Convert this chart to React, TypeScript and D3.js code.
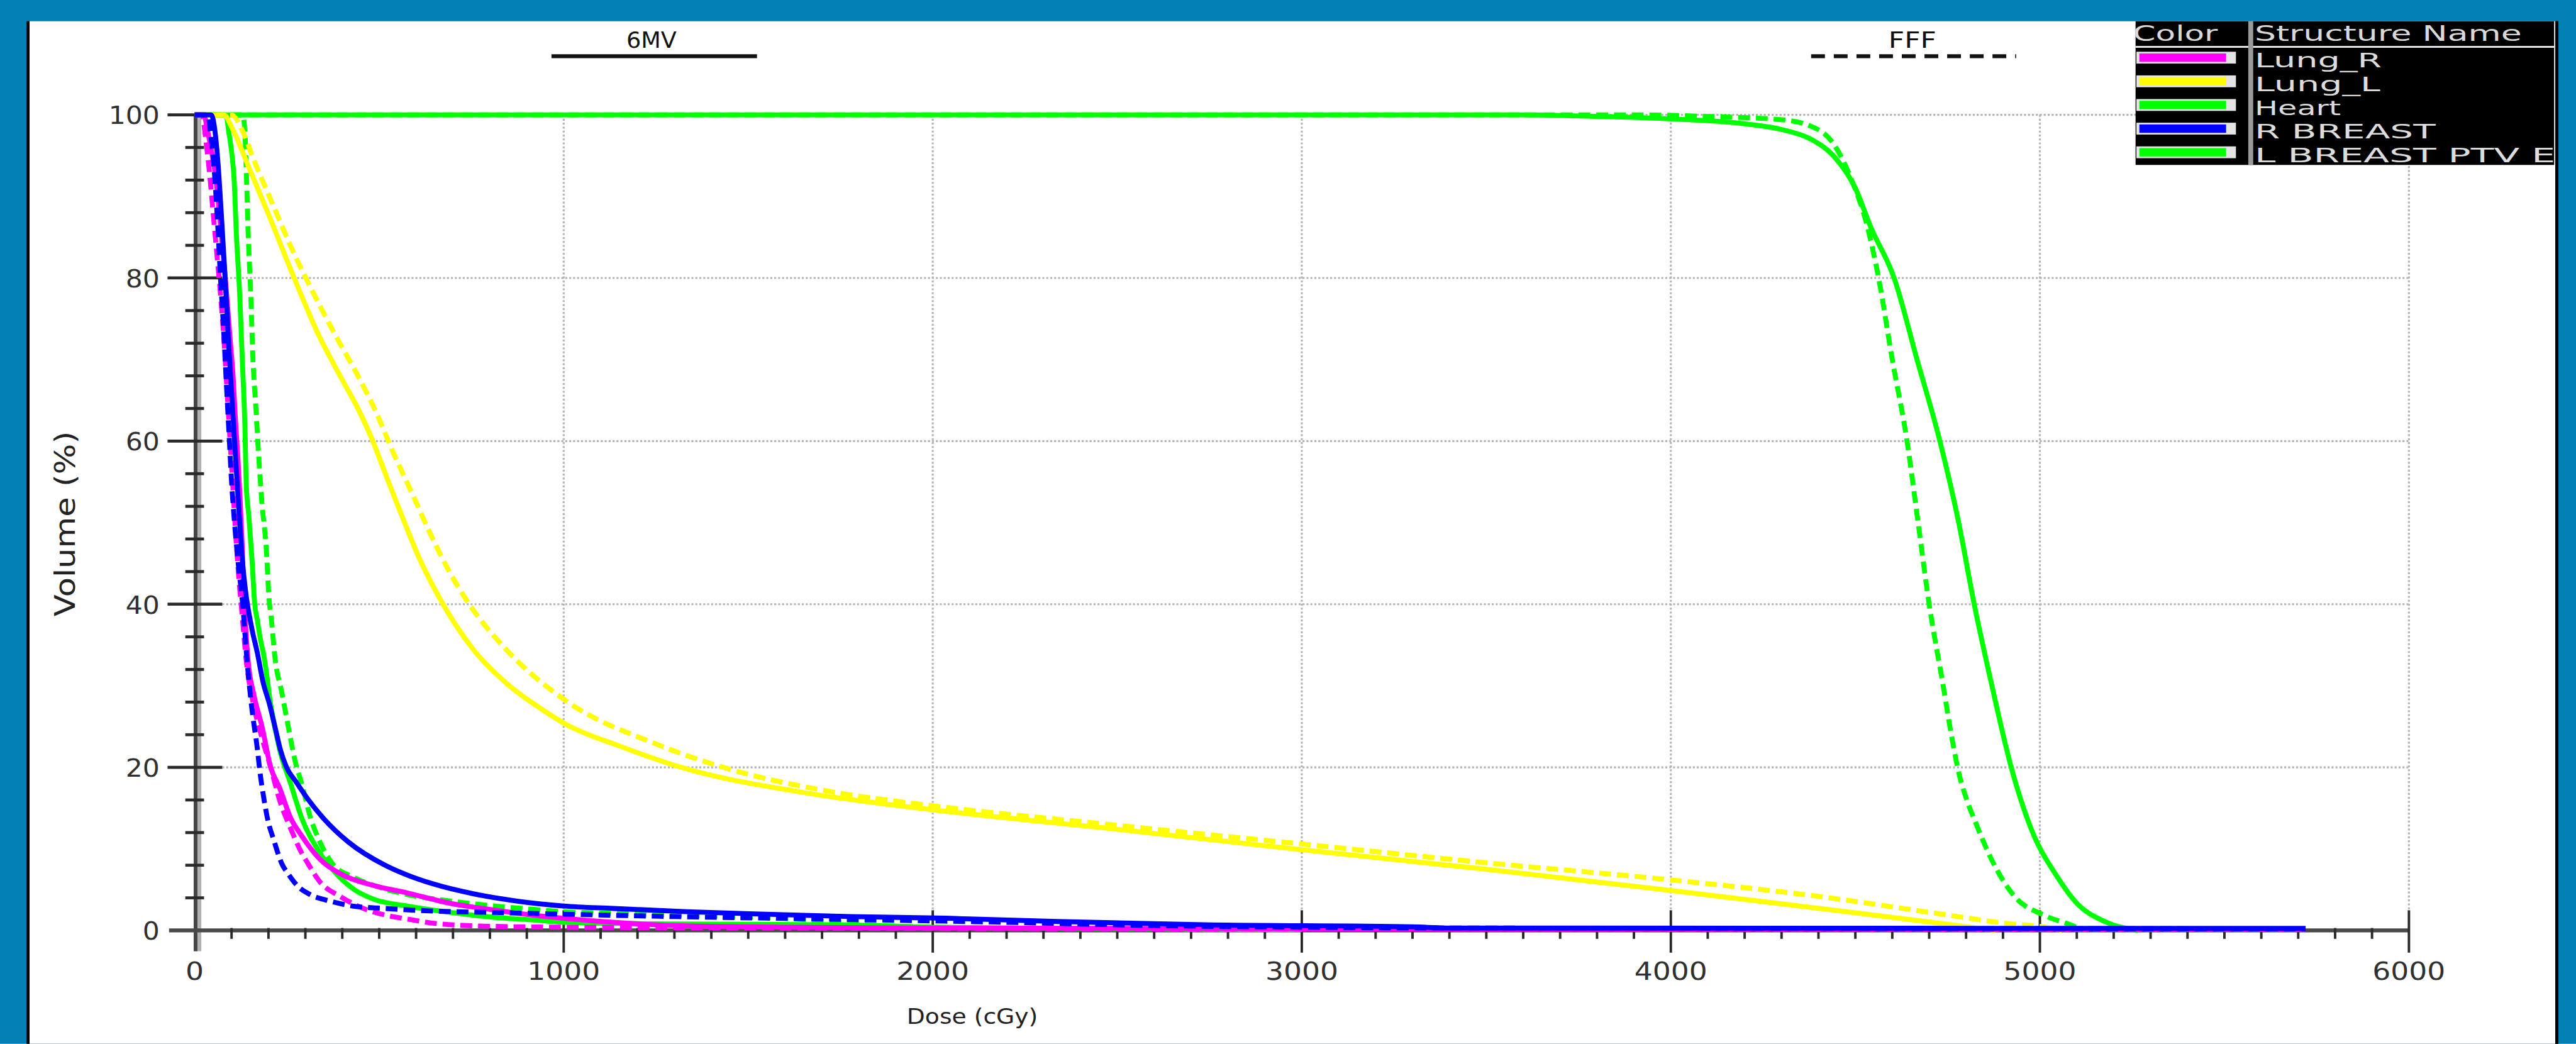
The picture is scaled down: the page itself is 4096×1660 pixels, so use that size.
import React from "react";
import * as d3 from "d3";

const W = 4096;
const H = 1660;
const REF_W = 5227;
const S = W / REF_W;

// ---- axis ticks ----
const xMajorTicks = [0, 1000, 2000, 3000, 4000, 5000, 6000];
const xTickLabels = ["0", "1000", "2000", "3000", "4000", "5000", "6000"];
const yMajorTicks = [0, 20, 40, 60, 80, 100];
const yTickLabels = ["0", "20", "40", "60", "80", "100"];
const xMinorStep = 100;
const yMinorStep = 4;

// ---- legend ----
const structureNames = ["Lung_R", "Lung_L", "Heart", "R BREAST", "L BREAST PTV E"];
const structureColors = ["#ff00ff", "#ffff00", "#00ff00", "#0000ff", "#00ff00"];
const techniqueLabels = ["6MV", "FFF"];

// ---- DVH data: [dose cGy, volume %] ----
const lungR_6MV = [[0,100],[25,100],[35,98],[48,95],[58,92],[67,88],[75,84],[83,80],[90,76],[97,72],[104,68],[110,63],[117,58],[123,53],[128,48],[132,43],[136,39],[145,33],[160,29],[183,24.9],[206,20],[230,17.5],[260,13.8],[290,11.6],[338,8.8],[397,6.9],[487,5.5],[576,4.6],[695,3.3],[814,2.5],[914,1.9],[1000,1.5],[1134,1.0],[1300,0.6],[1600,0.4],[2000,0.3],[3000,0.2],[5720,0.15]];
const lungR_FFF = [[0,100],[20,100],[30,97],[40,93],[50,88],[60,83],[70,78],[80,72],[88,66],[96,60],[104,54],[112,48],[120,43],[128,39],[140,33],[158,28],[180,24],[206,20],[230,16],[260,12.5],[290,9.5],[307,8.2],[337,6.1],[397,4.1],[457,2.7],[516,1.9],[576,1.4],[665,0.8],[814,0.5],[1000,0.4],[1500,0.3],[2500,0.2],[5720,0.1]];

const lungL_6MV = [[0,100],[80,100],[100,98.5],[150,93.2],[200,87.8],[265,80.5],[336,73],[400,67.5],[440,64.2],[480,60.3],[520,55.6],[560,51],[610,45.5],[673,40],[756,34.4],[845,30.3],[948,26.9],[1005,25.3],[1152,22.6],[1318,20],[1638,17],[2000,14.8],[2500,12.4],[3000,9.9],[3500,7.5],[4000,4.9],[4441,2.5],[4734,0.85],[4880,0]];
const lungL_FFF = [[0,100],[100,100],[130,98],[160,94.5],[207,89.5],[269,83],[320,78.3],[381,73],[440,68.2],[490,63.7],[540,58.4],[590,53.5],[640,48.5],[690,44],[744,40],[845,34.4],[1005,28.2],[1254,22.8],[1432,20],[1727,17],[2000,15.3],[2500,12.9],[3000,10.6],[3500,8.3],[4000,6.2],[4414,4.1],[4734,2.0],[4912,0.85],[5030,0.3],[5060,0]];

const heart_6MV = [[0,100],[85,100],[92,98],[100,95.5],[107,92],[113,85.4],[122,78],[129,70],[136,62],[140,54.5],[147,50.7],[156,45],[162,40.4],[170,38],[177,36],[189,33.3],[206,27.7],[230,22.2],[260,18],[290,13.8],[338,9.6],[385,6.9],[433,5.0],[487,3.8],[576,3.0],[695,2.2],[814,1.6],[914,1.3],[1000,1.0],[1300,0.8],[1750,0.7],[2000,0.4],[2500,0.2],[3000,0.1]];
const heart_FFF = [[0,100],[130,100],[136,98],[140,93],[145,85.4],[152,78],[158,70],[166,64],[173,58.5],[182,52.6],[194,46.8],[202,40.4],[207,38.5],[218,33.3],[236,29.2],[254,24.9],[272,20.8],[290,18],[314,13.8],[338,11],[373,8.2],[427,6.6],[487,5.5],[576,4.4],[695,3.6],[814,3.0],[914,2.6],[1000,2.3],[1134,2.1],[1364,1.8],[1594,1.5],[1823,0.7],[2000,0.4],[2500,0.2],[3000,0.1]];

const rBreast_6MV = [[0,100],[45,100],[55,98],[65,93],[72,88],[80,82],[86,77],[92,72],[100,66],[108,60],[115,55],[122,50],[130,45],[138,41.6],[155,37],[170,34],[185,30.5],[203,27.7],[218,24.9],[232,22.2],[248,20.1],[275,18.2],[302,16.4],[350,13.7],[415,10.9],[516,8.0],[576,6.8],[647,5.7],[755,4.5],[874,3.6],[1000,3.0],[1134,2.7],[1333,2.3],[1548,2.0],[1777,1.7],[2038,1.5],[2337,1.1],[2735,0.7],[3300,0.45],[3400,0.3],[5720,0.25]];
const rBreast_FFF = [[0,100],[35,100],[45,97],[55,92],[63,86],[70,80],[78,74],[86,67],[93,61],[100,55],[108,50],[118,45],[130,40],[142,33],[155,27.2],[170,22.2],[177,19.4],[186,16.6],[197,13.8],[215,11],[236,8.2],[254,6.9],[278,5.5],[313,4.4],[367,3.6],[427,3.0],[516,2.7],[635,2.4],[814,2.2],[1000,2.0],[1300,1.7],[1700,1.4],[2200,1.0],[2600,0.6],[3000,0.4],[3400,0.3],[5720,0.2]];

const ptv_6MV = [[0,100],[3600,100],[3800,99.8],[4000,99.5],[4200,98.9],[4300,98.2],[4380,97],[4440,95],[4500,91],[4542,86.2],[4605,80],[4667,70],[4729,60],[4780,50],[4822,40],[4870,30],[4920,20.4],[4985,11.5],[5044,6.8],[5103,3.2],[5176,1.1],[5265,0]];
const ptv_FFF = [[0,100],[3900,100],[4100,99.8],[4300,99.4],[4380,98.6],[4440,96.5],[4490,92],[4533,86.2],[4563,80],[4600,70],[4640,60],[4670,50],[4700,40],[4738,30],[4760,24],[4782,19],[4802,16],[4826,13.2],[4868,8.8],[4927,4.4],[5015,1.8],[5088,0.6],[5117,0]];

// draw order (bottom to top)
const series = [
  { data: ptv_6MV, color: structureColors[4], dashed: false },
  { data: ptv_FFF, color: structureColors[4], dashed: true },
  { data: heart_6MV, color: structureColors[2], dashed: false },
  { data: heart_FFF, color: structureColors[2], dashed: true },
  { data: lungL_6MV, color: structureColors[1], dashed: false },
  { data: lungL_FFF, color: structureColors[1], dashed: true },
  { data: lungR_6MV, color: structureColors[0], dashed: false },
  { data: lungR_FFF, color: structureColors[0], dashed: true },
  { data: rBreast_6MV, color: structureColors[3], dashed: false },
  { data: rBreast_FFF, color: structureColors[3], dashed: true },
];

const FONT = "'DejaVu Sans', 'Liberation Sans', sans-serif";

export default function App() {
  const x = d3.scaleLinear().domain([0, 6000]).range([395, 4888]);
  const y = d3.scaleLinear().domain([0, 100]).range([1888, 233]);
  const line = d3
    .line<number[]>()
    .x((d) => x(d[0]))
    .y((d) => y(d[1]))
    .curve(d3.curveMonotoneX);

  const xMinor = d3.range(0, 6001, xMinorStep).filter((v) => v % 1000 !== 0);
  const yMinor = d3.range(0, 101, yMinorStep).filter((v) => v % 20 !== 0);
  const x0 = x(0);
  const y0 = y(0);
  const xEnd = x(6000);
  const yTop = y(100);

  const legX = 4333, legY = 43, legW = 850, legH = 292;
  const rowY = (i: number) => 117 + i * 48;
  const nameWidths = [258, 255, 175, 367, 610];

  return (
    <svg
      width={W}
      height={H}
      style={{ position: "absolute", left: 0, top: 0, display: "block" }}
    >
      <g transform={`scale(${S})`}>
        <rect x={0} y={0} width={REF_W} height={2118} fill="#0380b4" />
        <rect x={54} y={43} width={5137} height={2075} fill="#000" />
        <rect x={60} y={43} width={5125} height={2075} fill="#fff" />

        {/* grid */}
        <g stroke="#b4b4b4" strokeWidth={4} strokeDasharray="4 4">
          {yMajorTicks.filter((v) => v > 0).map((v) => (
            <line key={"gy" + v} x1={x0 + 56} x2={xEnd} y1={y(v)} y2={y(v)} />
          ))}
          {xMajorTicks.filter((v) => v > 0).map((v) => (
            <line key={"gx" + v} x1={x(v)} x2={x(v)} y1={yTop} y2={y0 - 41} />
          ))}
        </g>

        {/* axes */}
        <line x1={x0 + 10} x2={x0 + 10} y1={yTop + 4} y2={y0 + 42} stroke="#b0b0b0" strokeWidth={7} />
        <line x1={x0 + 2} x2={x0 + 2} y1={yTop} y2={y0 + 42} stroke="#454545" strokeWidth={8} />
        <line x1={x0 - 52} x2={xEnd} y1={y0} y2={y0} stroke="#4a4a4a" strokeWidth={8} />
        <g stroke="#2a2a2a" strokeWidth={6}>
          {yMajorTicks.filter((v) => v > 0).map((v) => (
            <line key={"ty" + v} x1={x0 - 55} x2={x0 + 56} y1={y(v)} y2={y(v)} />
          ))}
          {yMinor.map((v) => (
            <line key={"tym" + v} x1={x0 - 19} x2={x0 + 19} y1={y(v)} y2={y(v)} />
          ))}
        </g>
        <g stroke="#2a2a2a" strokeWidth={5}>
          {xMajorTicks.filter((v) => v > 0).map((v) => (
            <line key={"tx" + v} x1={x(v)} x2={x(v)} y1={y0 - 41} y2={y0 + 45} />
          ))}
          {xMinor.map((v) => (
            <line key={"txm" + v} x1={x(v)} x2={x(v)} y1={y0 - 5} y2={y0 + 17} />
          ))}
        </g>

        {/* tick labels */}
        <g fontFamily={FONT} fontSize={50} fill="#303030">
          {yMajorTicks.map((v, i) => (
            <text
              key={"ly" + v}
              x={324}
              y={y(v) + 19}
              textAnchor="end"
              textLength={yTickLabels[i].length * 34.5}
              lengthAdjust="spacingAndGlyphs"
            >
              {yTickLabels[i]}
            </text>
          ))}
          {xMajorTicks.map((v, i) => (
            <text
              key={"lx" + v}
              x={x(v) - (xTickLabels[i].length * 37) / 2}
              y={1988}
              textLength={xTickLabels[i].length * 37}
              lengthAdjust="spacingAndGlyphs"
            >
              {xTickLabels[i]}
            </text>
          ))}
        </g>

        {/* axis titles */}
        <text
          x={1973 - 133}
          y={2077}
          fontFamily={FONT}
          fontSize={42}
          fill="#222"
          textLength={266}
          lengthAdjust="spacingAndGlyphs"
        >
          Dose (cGy)
        </text>
        <text
          transform="translate(152,1063) rotate(-90)"
          x={-188}
          y={0}
          fontFamily={FONT}
          fontSize={56}
          fill="#222"
          textLength={376}
          lengthAdjust="spacingAndGlyphs"
        >
          Volume (%)
        </text>

        {/* DVH curves */}
        <g fill="none" strokeWidth={10} strokeLinejoin="round">
          {series.map((s, i) => (
            <path
              key={"s" + i}
              d={line(s.data as number[][]) || ""}
              stroke={s.color}
              strokeDasharray={s.dashed ? "24 12" : undefined}
            />
          ))}
        </g>

        {/* technique legend */}
        <text x={1322 - 51} y={97} fontFamily={FONT} fontSize={46} fill="#111" textLength={102} lengthAdjust="spacingAndGlyphs">
          {techniqueLabels[0]}
        </text>
        <line x1={1119} x2={1536} y1={114} y2={114} stroke="#111" strokeWidth={8} />
        <text x={3880 - 48} y={97} fontFamily={FONT} fontSize={46} fill="#111" textLength={97} lengthAdjust="spacingAndGlyphs">
          {techniqueLabels[1]}
        </text>
        <line x1={3675} x2={4091} y1={114} y2={114} stroke="#111" strokeWidth={8} strokeDasharray="28 18" />

        {/* structure legend */}
        <defs>
          <clipPath id="legclip">
            <rect x={legX} y={legY} width={legW} height={legH} />
          </clipPath>
        </defs>
        <g clipPath="url(#legclip)">
          <rect x={legX} y={legY} width={legW} height={legH} fill="#000" />
          <line x1={legX} x2={legX + legW} y1={95} y2={95} stroke="#e6e6e6" strokeWidth={4} />
          <line x1={4567} x2={4567} y1={legY} y2={legY + legH} stroke="#9a9a9a" strokeWidth={10} />
          <text x={4328} y={83} fontFamily={FONT} fontSize={43} fill="#d8d8d8" textLength={172} lengthAdjust="spacingAndGlyphs">
            Color
          </text>
          <text x={4575} y={83} fontFamily={FONT} fontSize={43} fill="#d8d8d8" textLength={542} lengthAdjust="spacingAndGlyphs">
            Structure Name
          </text>
          {structureNames.map((name, i) => (
            <g key={name}>
              <rect x={4335} y={rowY(i) - 12} width={202} height={24} fill="#e4e4e4" />
              <rect x={4341} y={rowY(i) - 8.5} width={176} height={17} fill={structureColors[i]} />
              <text
                x={4575}
                y={rowY(i) + 20}
                fontFamily={FONT}
                fontSize={41}
                fill="#dcdcdc"
                textLength={nameWidths[i]}
                lengthAdjust="spacingAndGlyphs"
              >
                {name}
              </text>
            </g>
          ))}
        </g>
        <rect x={5185} y={43} width={6} height={2075} fill="#000" />
      </g>
    </svg>
  );
}
